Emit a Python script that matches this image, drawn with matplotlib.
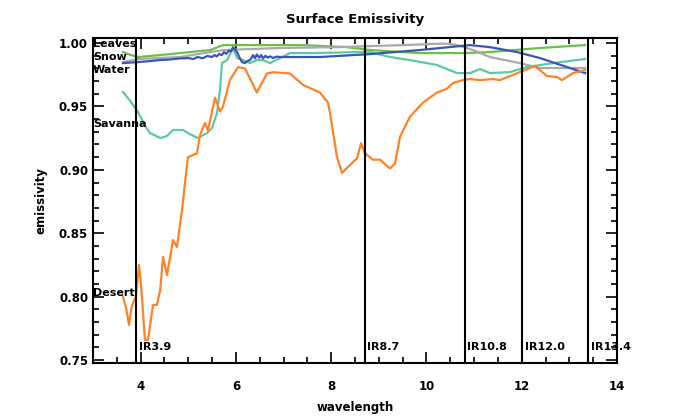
import numpy as np
import matplotlib.pyplot as plt
from matplotlib.ticker import MultipleLocator

# surface emissivity spectra (wavelength in micron)
leaves_wl = [3.63, 3.80, 3.945, 4.20, 4.83, 5.46, 5.73, 6.10, 6.93, 7.41, 8.33, 8.81, 9.86, 10.81, 11.33, 12.38, 13.33]
leaves_em = [0.9929, 0.9905, 0.9890, 0.9898, 0.9921, 0.9945, 0.9984, 0.9984, 0.9984, 0.9984, 0.9968, 0.9945, 0.9921, 0.9921, 0.9929, 0.9961, 0.9984]

snow_wl = [3.63, 3.945, 4.83, 5.73, 6.93, 8.12, 9.51, 10.28, 10.43, 10.64, 10.98, 11.33, 11.96, 12.38, 13.33]
snow_em = [0.9850, 0.9874, 0.9890, 0.9945, 0.9961, 0.9968, 0.9984, 0.9995, 0.9995, 0.9984, 0.9945, 0.9890, 0.9842, 0.9803, 0.9803]

water_wl = [3.63, 3.945, 4.20, 4.41, 4.60, 4.80, 5.00, 5.10, 5.20, 5.30, 5.40, 5.50, 5.55, 5.60, 5.65,
            5.70, 5.75, 5.80, 5.85, 5.90, 5.94, 5.98, 6.03, 6.08, 6.13, 6.19, 6.25, 6.30, 6.36, 6.40,
            6.44, 6.49, 6.53, 6.57, 6.62, 6.66, 6.72, 6.78, 6.85, 6.93, 7.50, 7.77, 8.81, 9.86, 10.91,
            11.33, 11.90, 12.38, 12.95, 13.33]
water_em = [0.9842, 0.9850, 0.9858, 0.9866, 0.9870, 0.9878, 0.9882, 0.9874, 0.9890, 0.9880, 0.9898, 0.9890,
            0.9905, 0.9895, 0.9915, 0.9905, 0.9929, 0.9915, 0.9940, 0.9935, 0.9968, 0.9950, 0.9925, 0.9882,
            0.9850, 0.9842, 0.9860, 0.9866, 0.9905, 0.9880, 0.9910, 0.9885, 0.9905, 0.9880, 0.9900, 0.9885,
            0.9895, 0.9882, 0.9893, 0.9890, 0.9890, 0.9890, 0.9913, 0.9945, 0.9984, 0.9968, 0.9929, 0.9882,
            0.9811, 0.9763]

savanna_wl = [3.63, 3.77, 3.945, 4.09, 4.196, 4.41, 4.55, 4.68, 4.89, 5.04, 5.204, 5.393, 5.498, 5.603,
              5.666, 5.708, 5.813, 5.939, 6.023, 6.148, 6.296, 6.44, 6.568, 6.715, 7.135, 7.618, 8.542,
              8.814, 9.234, 9.654, 10.22, 10.641, 10.914, 11.123, 11.333, 11.753, 12.11, 12.656, 13.33]
savanna_em = [0.9614, 0.9550, 0.9456, 0.9350, 0.9290, 0.9251, 0.9267, 0.9314, 0.9314, 0.9280, 0.9251,
              0.9290, 0.9330, 0.9448, 0.9630, 0.9842, 0.9866, 0.9961, 0.9882, 0.9866, 0.9842, 0.9866,
              0.9866, 0.9842, 0.9921, 0.9921, 0.9929, 0.9929, 0.9890, 0.9866, 0.9827, 0.9763, 0.9763,
              0.9795, 0.9763, 0.9771, 0.9811, 0.9842, 0.9874]

desert_wl = [3.63, 3.70, 3.756, 3.80, 3.84, 3.90, 3.966, 4.01, 4.09, 4.155, 4.22, 4.26, 4.34, 4.41, 4.47,
             4.553, 4.68, 4.763, 4.868, 4.95, 4.994, 5.183, 5.246, 5.351, 5.414, 5.561, 5.666, 5.729,
             5.876, 6.044, 6.19, 6.44, 6.652, 6.778, 7.135, 7.408, 7.765, 7.933, 7.975, 8.122, 8.227,
             8.395, 8.542, 8.626, 8.71, 8.877, 9.024, 9.234, 9.339, 9.444, 9.654, 9.927, 10.22, 10.431,
             10.557, 10.767, 10.914, 11.123, 11.396, 11.543, 11.963, 12.278, 12.53, 12.74, 12.845, 13.076,
             13.33]
desert_em = [0.7997, 0.7900, 0.7776, 0.7900, 0.7950, 0.7997, 0.8249, 0.8090, 0.7658, 0.7658, 0.7830,
             0.7934, 0.7934, 0.8050, 0.8312, 0.8170, 0.8446, 0.8391, 0.8683, 0.8960, 0.9100, 0.9130,
             0.9274, 0.9370, 0.9310, 0.9570, 0.9460, 0.9500, 0.9710, 0.9810, 0.9800, 0.9610, 0.9760,
             0.9770, 0.9760, 0.9670, 0.9610, 0.9530, 0.9450, 0.9100, 0.8975, 0.9040, 0.9090, 0.9210,
             0.9130, 0.9080, 0.9080, 0.9010, 0.9050, 0.9260, 0.9420, 0.9530, 0.9610, 0.9640, 0.9685,
             0.9708, 0.9716, 0.9708, 0.9716, 0.9708, 0.9771, 0.9819, 0.9740, 0.9732, 0.9708, 0.9763,
             0.9787]

channels = [3.9, 8.7, 10.8, 12.0, 13.4]
channel_names = ['IR3.9', 'IR8.7', 'IR10.8', 'IR12.0', 'IR13.4']

surface_names = ['Leaves', 'Snow', 'Water', 'Savanna', 'Desert']
name_y = [0.9992, 0.9890, 0.9787, 0.9360, 0.8030]

plt.rcParams['font.family'] = 'DejaVu Sans'
plt.rcParams['font.weight'] = 'bold'

fig = plt.figure(figsize=(6.77, 4.17), dpi=100)
ax = fig.add_axes([93/677, 1-363/417, 524/677, 325/417])

ax.plot(leaves_wl, leaves_em, color='#6cc04a', lw=1.6)
ax.plot(snow_wl, snow_em, color='#aaaaaa', lw=1.6)
ax.plot(savanna_wl, savanna_em, color='#5cc9a0', lw=1.6)
ax.plot(water_wl, water_em, color='#3a55b5', lw=1.6)
ax.plot(desert_wl, desert_em, color='#ff8228', lw=1.6)

for c, lab in zip(channels, channel_names):
    ax.axvline(c, color='k', lw=1.5)
    ax.text(c + 0.06, 0.760, lab, fontsize=8, va='center', ha='left')

for n, y in zip(surface_names, name_y):
    ax.text(3.0, y, n, fontsize=8, va='center', ha='left')

ax.set_xlim(3, 14)
ax.set_ylim(0.7476, 1.004)
ax.set_xticks([4, 6, 8, 10, 12, 14])
ax.set_yticks([0.75, 0.80, 0.85, 0.90, 0.95, 1.00])
ax.set_yticklabels(['0.75', '0.80', '0.85', '0.90', '0.95', '1.00'])
ax.xaxis.set_minor_locator(MultipleLocator(0.5))
ax.yaxis.set_minor_locator(MultipleLocator(0.01))
ax.tick_params(which='both', direction='in', top=True, right=True, labelsize=8.5, width=1.2)
ax.tick_params(which='major', length=8)
ax.tick_params(which='minor', length=4)
ax.tick_params(axis='x', pad=12)
for s in ax.spines.values():
    s.set_linewidth(1.5)

ax.set_title('Surface Emissivity', fontsize=9.5, fontweight='bold', pad=11)
ax.set_xlabel('wavelength', fontsize=8.5, fontweight='bold', labelpad=6)
ax.set_ylabel('emissivity', fontsize=8.5, fontweight='bold', labelpad=8)

fig.savefig('out.png', dpi=100)
